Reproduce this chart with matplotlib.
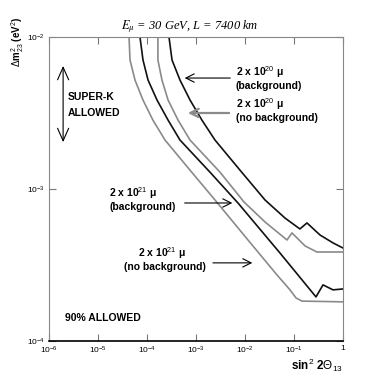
import matplotlib
matplotlib.use("Agg")
import matplotlib.pyplot as plt

plt.rcParams['font.family'] = ['Liberation Sans', 'DejaVu Sans']
plt.rcParams['mathtext.fontset'] = 'custom'
plt.rcParams['mathtext.rm'] = 'Liberation Sans'
plt.rcParams['mathtext.it'] = 'Liberation Sans:italic'
plt.rcParams['mathtext.bf'] = 'Liberation Sans:bold'

# 2e21 mu, no background (grey, leftmost)
a_x = [4.30e-5, 4.50e-5, 5.69e-5, 8.28e-5, 1.32e-4, 2.33e-4, 7.55e-4, 2.44e-3, 1.15e-2, 4.50e-2, 8.28e-2, 0.110, 0.146, 1.0]
a_y = [1e-2, 7.06e-3, 5.21e-3, 3.85e-3, 2.84e-3, 2.10e-3, 1.33e-3, 8.47e-4, 4.62e-4, 2.72e-4, 2.17e-4, 1.92e-4, 1.83e-4, 1.81e-4]
# 2e21 mu, background (black)
b_x = [7.19e-5, 8.28e-5, 1.05e-4, 1.60e-4, 2.69e-4, 4.71e-4, 1.93e-3, 7.19e-3, 5.18e-2, 0.281, 0.391, 0.625, 1.0]
b_y = [1e-2, 7.06e-3, 5.21e-3, 3.85e-3, 2.84e-3, 2.10e-3, 1.29e-3, 8.09e-4, 3.79e-4, 1.95e-4, 2.34e-4, 2.17e-4, 2.20e-4]
# 2e20 mu, no background (grey)
c_x = [1.67e-4, 1.67e-4, 2.02e-4, 2.69e-4, 4.30e-4, 7.55e-4, 3.09e-3, 9.55e-3, 2.56e-2, 7.19e-2, 9.10e-2, 0.168, 0.294, 1.0]
c_y = [1e-2, 7.06e-3, 5.21e-3, 3.85e-3, 2.84e-3, 2.10e-3, 1.29e-3, 8.21e-4, 6.07e-4, 4.62e-4, 5.14e-4, 4.22e-4, 3.85e-4, 3.85e-4]
# 2e20 mu, background (black, rightmost)
d_x = [2.81e-4, 3.24e-4, 4.71e-4, 7.55e-4, 1.32e-3, 2.44e-3, 7.91e-3, 2.56e-2, 6.55e-2, 0.132, 0.184, 0.340, 0.625, 1.0]
d_y = [1e-2, 7.06e-3, 5.21e-3, 3.85e-3, 2.84e-3, 2.10e-3, 1.33e-3, 8.47e-4, 6.44e-4, 5.46e-4, 5.98e-4, 4.98e-4, 4.42e-4, 4.09e-4]

x_ticks = [1e-6, 1e-5, 1e-4, 1e-3, 1e-2, 1e-1, 1]
x_ticklabels = [r'$10^{-6}$', r'$10^{-5}$', r'$10^{-4}$', r'$10^{-3}$', r'$10^{-2}$', r'$10^{-1}$', '1']
y_ticks = [1e-4, 1e-3, 1e-2]
y_ticklabels = [r'$10^{-4}$', r'$10^{-3}$', r'$10^{-2}$']

fig = plt.figure(figsize=(3.82, 3.80), dpi=100)
ax = fig.add_axes([49/382, 1-341/380, 294/382, 304/380])
ax.set_xscale('log')
ax.set_yscale('log')
ax.set_xlim(1e-6, 1)
ax.set_ylim(1e-4, 1e-2)

grey = '#8a8a8a'
ax.plot(a_x, a_y, color=grey, lw=1.2)
ax.plot(b_x, b_y, color='#111111', lw=1.2)
ax.plot(c_x, c_y, color=grey, lw=1.2)
ax.plot(d_x, d_y, color='#111111', lw=1.2)

ax.set_xticks(x_ticks)
ax.set_xticklabels(x_ticklabels)
ax.set_yticks(y_ticks)
ax.set_yticklabels(y_ticklabels)
ax.minorticks_off()
ax.tick_params(axis='both', which='major', direction='in', length=5, width=0.8,
               color='#777777', labelsize=6, top=True, right=True, pad=3)

for s in ['left', 'right', 'top']:
    ax.spines[s].set_color('#888888')
    ax.spines[s].set_linewidth(0.8)
ax.spines['bottom'].set_color('black')
ax.spines['bottom'].set_linewidth(1.2)

# title
fig.text(190/382, 1-27/380, r'$E_{\mu}$ = 30 GeV, L = 7400 km', ha='center', va='center',
         fontsize=9, family='Liberation Serif', style='italic', math_fontfamily='stix')
# axis labels
fig.text(18/382, 1-42/380, r'$\Delta$m$^2_{23}$ (eV$^2$)', rotation=90, ha='center', va='center',
         fontsize=7, weight='bold')
fig.text(343/382, 1-365/380, r'sin$^2$ 2$\Theta_{13}$', ha='right', va='center',
         fontsize=8.5, weight='bold')

tkw = dict(transform=ax.transAxes, fontsize=7.5, weight='bold', va='center')
ax.text(0.636, 0.884, r'2 x 10$^{20}$ μ', ha='left', **tkw)
ax.text(0.636, 0.840, '(background)', ha='left', **tkw)
ax.text(0.636, 0.779, r'2 x 10$^{20}$ μ', ha='left', **tkw)
ax.text(0.636, 0.735, '(no background)', ha='left', **tkw)
ax.text(0.204, 0.486, r'2 x 10$^{21}$ μ', ha='left', **tkw)
ax.text(0.207, 0.440, '(background)', ha='left', **tkw)
ax.text(0.383, 0.289, r'2 x 10$^{21}$ μ', ha='center', **tkw)
ax.text(0.393, 0.243, '(no background)', ha='center', **tkw)
ax.text(0.065, 0.801, 'SUPER-K', ha='left', **tkw)
ax.text(0.065, 0.750, 'ALLOWED', ha='left', **tkw)
ax.text(0.054, 0.076, '90% ALLOWED', ha='left', **tkw)

akw = dict(xycoords='axes fraction', textcoords='axes fraction')
ax.annotate('', xy=(0.452, 0.865), xytext=(0.626, 0.865),
            arrowprops=dict(arrowstyle='->,head_length=0.6,head_width=0.3', color='black', lw=0.8), **akw)
ax.annotate('', xy=(0.463, 0.750), xytext=(0.622, 0.750),
            arrowprops=dict(arrowstyle='->,head_length=0.6,head_width=0.3', color=grey, lw=1.6), **akw)
ax.annotate('', xy=(0.633, 0.454), xytext=(0.452, 0.454),
            arrowprops=dict(arrowstyle='->,head_length=0.6,head_width=0.3', color='black', lw=0.8), **akw)
ax.annotate('', xy=(0.701, 0.257), xytext=(0.548, 0.257),
            arrowprops=dict(arrowstyle='->,head_length=0.6,head_width=0.3', color='black', lw=0.8), **akw)
ax.annotate('', xy=(0.048, 0.914), xytext=(0.048, 0.645),
            arrowprops=dict(arrowstyle='<->,head_length=0.9,head_width=0.4', color='black', lw=0.8), **akw)

fig.savefig('out.png', dpi=100)
